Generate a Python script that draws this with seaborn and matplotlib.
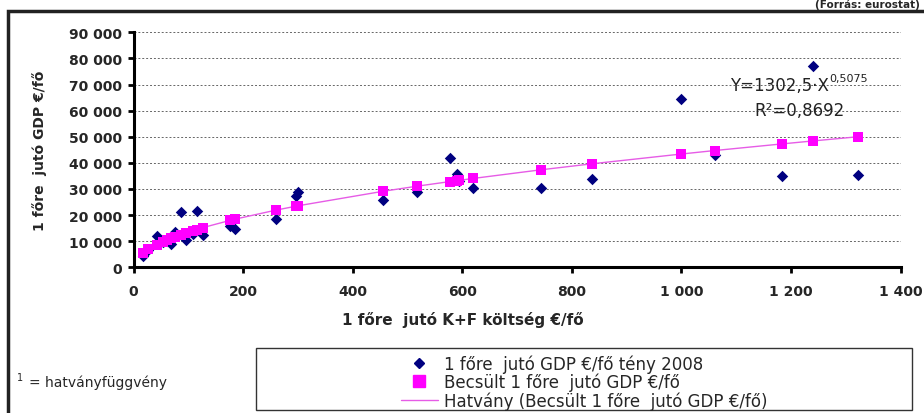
import matplotlib
matplotlib.use("Agg")
import matplotlib.pyplot as plt
import seaborn as sns
import pandas as pd
from matplotlib.lines import Line2D
from matplotlib.patches import Rectangle
from matplotlib.ticker import FuncFormatter, MultipleLocator

# R&D spending per head (x) vs GDP per head: actual 2008 and power-law estimate
kf_per_head = [17, 27, 42, 54, 62, 68, 76, 87, 96, 108, 115, 127, 177, 186, 260,
               296, 300, 455, 518, 578, 590, 594, 620, 743, 836, 999, 1061, 1183,
               1240, 1323]
gdp_actual = [4500, 6500, 12000, 9800, 10000, 8900, 13600, 21200, 10600, 12800,
              21600, 12200, 15900, 14800, 18400, 27400, 28800, 25900, 28700, 42000,
              35900, 33200, 30500, 30200, 34000, 64600, 43000, 34800, 77000, 35500]
gdp_estimated = [5490, 6940, 8680, 9860, 10580, 11090, 11730, 12560, 13210, 14020,
                 14470, 15220, 18010, 18470, 21900, 23380, 23550, 29090, 31080, 32840,
                 33190, 33290, 34030, 37320, 39620, 43360, 44720, 47240, 48390, 50010]

label_actual = "1 főre  jutó GDP €/fő tény 2008"
label_est = "Becsült 1 főre  jutó GDP €/fő"
label_trend = "Hatvány (Becsült 1 főre  jutó GDP €/fő)"

df = pd.DataFrame({"kf": kf_per_head, "actual": gdp_actual, "est": gdp_estimated})

sns.set_theme(style="white")
plt.rcParams["font.family"] = ["DejaVu Sans"]

W, H = 924, 414
fig = plt.figure(figsize=(W / 100, H / 100), dpi=100)
ax = fig.add_axes([133.5 / W, 1 - 268.3 / H, 767 / W, 235 / H])

navy = "#000080"
magenta = "#ff00ff"

sns.scatterplot(data=df, x="kf", y="actual", marker="D", color=navy, s=34,
                linewidth=0, ax=ax, zorder=3)
sns.lineplot(data=df.sort_values("kf"), x="kf", y="est", estimator=None,
             color="#e65ce6", linewidth=1.0, ax=ax, zorder=4)
sns.scatterplot(data=df, x="kf", y="est", marker="s", color=magenta, s=62,
                linewidth=0, ax=ax, zorder=5)

ax.set_xlim(0, 1400)
ax.set_ylim(0, 90000)
ax.xaxis.set_major_locator(MultipleLocator(200))
ax.yaxis.set_major_locator(MultipleLocator(10000))
fmt = FuncFormatter(lambda v, p: f"{int(v):,}".replace(",", " "))
ax.xaxis.set_major_formatter(fmt)
ax.yaxis.set_major_formatter(fmt)

for s in ["top", "right"]:
    ax.spines[s].set_visible(False)
for s in ["left", "bottom"]:
    ax.spines[s].set_color("black")
    ax.spines[s].set_linewidth(2.2)
ax.tick_params(axis="both", direction="out", length=4, width=2, color="black",
               left=True, bottom=True)
ax.tick_params(axis="y", labelsize=10, pad=4)
ax.tick_params(axis="x", labelsize=10, pad=8)
for lab in ax.get_xticklabels() + ax.get_yticklabels():
    lab.set_fontweight("bold")

ax.yaxis.grid(True, linestyle=(0, (2, 2)), color="#666666", linewidth=0.7)
ax.xaxis.grid(False)
ax.set_xlabel("")
ax.set_ylabel("1 főre  jutó GDP €/fő", fontsize=10, fontweight="bold",
              labelpad=16)

fig.text(463 / W, 1 - 320 / H, "1 főre  jutó K+F költség €/fő", fontsize=11,
         fontweight="bold", ha="center", va="center")

# trend equation
fig.text(730 / W, 1 - 86 / H, "Y=1302,5·X", fontsize=12, ha="left", va="center",
         color="#222222")
fig.text(829 / W, 1 - 79 / H, "0,5075", fontsize=8, ha="left", va="center",
         color="#222222")
fig.text(754 / W, 1 - 111 / H, "R²=0,8692", fontsize=12, ha="left", va="center",
         color="#222222")

# legend box
fig.patches.append(Rectangle((256 / W, 1 - 411 / H), (912 - 256) / W, (411 - 349) / H,
                             transform=fig.transFigure, fill=False,
                             edgecolor="#333333", linewidth=1.0))
handles = [
    Line2D([], [], marker="D", color=navy, linestyle="none", markersize=5.5),
    Line2D([], [], marker="s", color=magenta, linestyle="none", markersize=8),
    Line2D([], [], color="#e65ce6", linewidth=1.0),
]
fig.legend(handles, [label_actual, label_est, label_trend], loc="center",
           bbox_to_anchor=(584 / W, 1 - 383 / H), frameon=False, fontsize=12,
           labelspacing=0.0, handlelength=2.2, handletextpad=0.35,
           borderpad=0, borderaxespad=0)

fig.text(17 / W, 1 - 378 / H, "1", fontsize=7, ha="left", va="center")
fig.text(29 / W, 1 - 383 / H, "= hatványfüggvény", fontsize=10, ha="left",
         va="center")

# outer frame and source note above it
fig.patches.append(Rectangle((8 / W, -0.1), 1.2, 1.1 - 12 / H,
                             transform=fig.transFigure, fill=False,
                             edgecolor="#222222", linewidth=2.5))
fig.text(920 / W, 1 - 10 / H, "(Forrás: eurostat)", fontsize=7.5, fontweight="bold",
         ha="right", va="bottom")

fig.savefig("out.png", dpi=100)
